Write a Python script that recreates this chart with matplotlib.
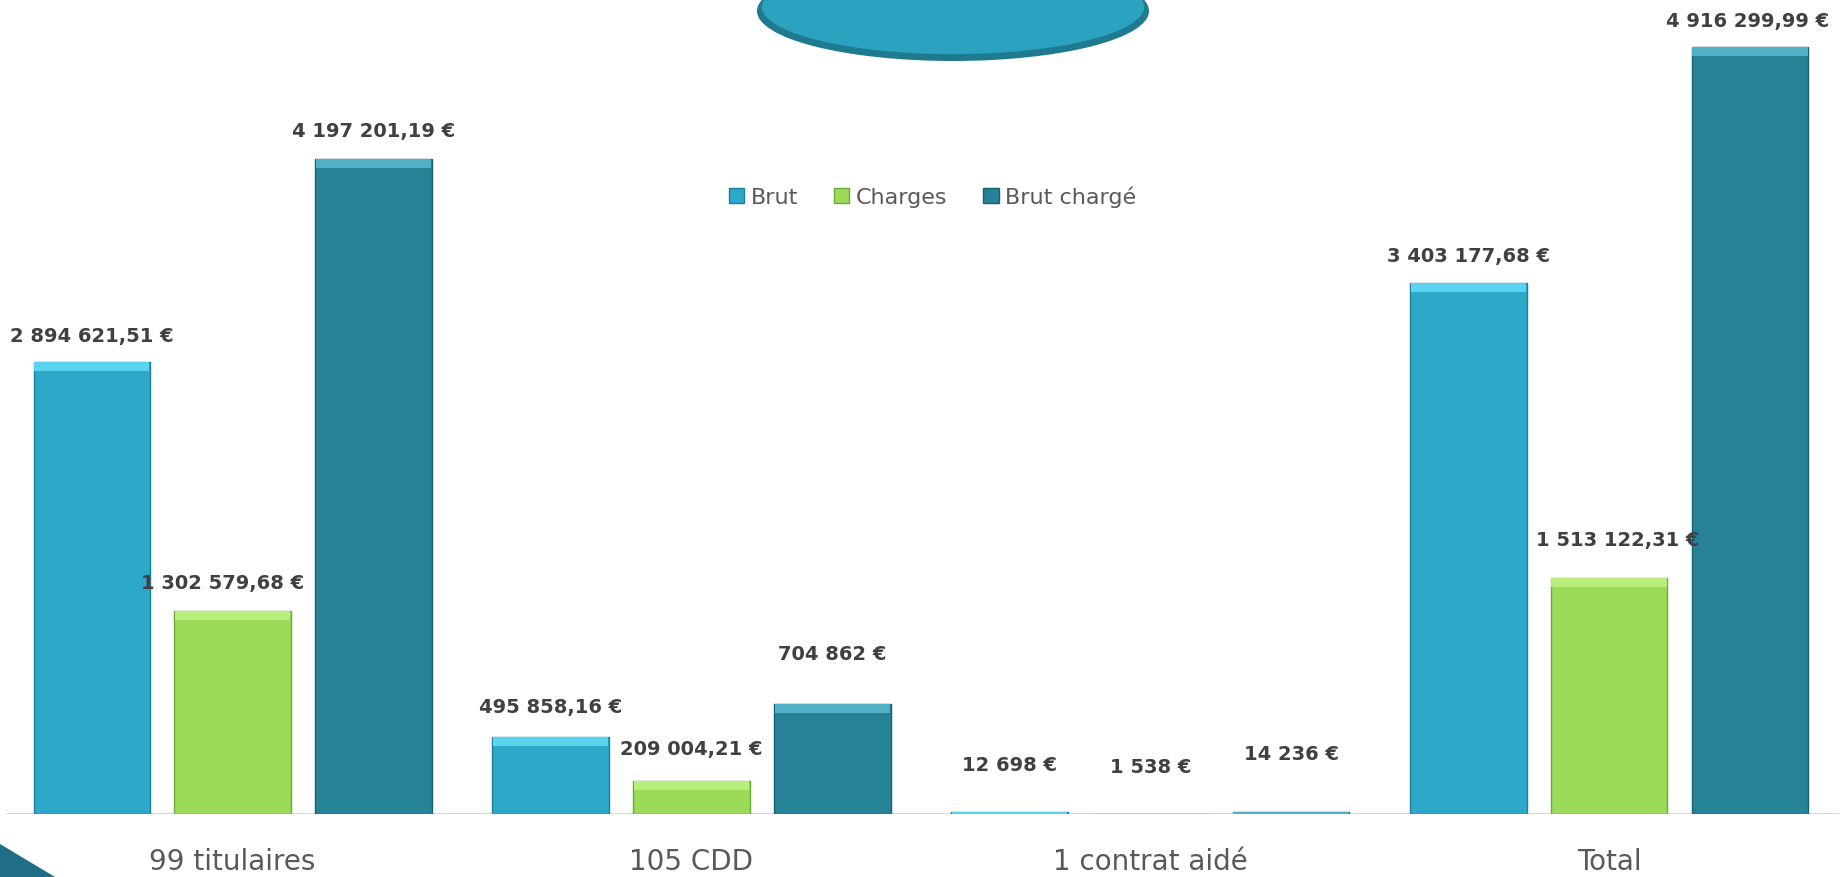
import numpy as np
import matplotlib.pyplot as plt
from matplotlib.patches import Ellipse, Polygon, Rectangle

categories = ["99 titulaires", "105 CDD", "1 contrat aidé", "Total"]
series_names = ["Brut", "Charges", "Brut chargé"]
brut = [2894621.51, 495858.16, 12698, 3403177.68]
charges = [1302579.68, 209004.21, 1538, 1513122.31]
brut_charge = [4197201.19, 704862, 14236, 4916299.99]
labels_brut = ["2 894 621,51 €", "495 858,16 €", "12 698 €", "3 403 177,68 €"]
labels_charges = ["1 302 579,68 €", "209 004,21 €", "1 538 €", "1 513 122,31 €"]
labels_brut_charge = ["4 197 201,19 €", "704 862 €", "14 236 €", "4 916 299,99 €"]

colors = ["#2EA8C8", "#9BDB58", "#268296"]
tops = ["#5AD3EE", "#B8EE7C", "#4FB0C6"]
edges = ["#1F7E97", "#6FA83A", "#1A5F70"]

# label offsets in points above the bar top
lab_dy = [[19.5, 22, 34, 20], [20, 23.5, 34, 28], [21, 36, 42, 19]]
lab_dx = [[0, 0, 0, 0], [-7, 0, 0, 6], [0, 0, 0, -2]]

plt.rcParams['font.family'] = ['DejaVu Sans']

fig = plt.figure(figsize=(18.45, 8.78), dpi=100)
ax = fig.add_axes([0.003, 0.0718, 0.9935, 0.9282])

ymax = 5224000
ax.set_xlim(-0.495, 3.5)
ax.set_ylim(0, ymax)

x = np.arange(len(categories))
w = 0.254
step = 0.307
band = ymax / 815 * 9

allvals = [brut, charges, brut_charge]
alllabs = [labels_brut, labels_charges, labels_brut_charge]
for i in range(3):
    xs = x + (i - 1) * step
    ax.bar(xs, allvals[i], width=w, color=colors[i], edgecolor=edges[i], linewidth=1.0, zorder=2)
    hb = [min(v, band) for v in allvals[i]]
    ax.bar(xs, hb, bottom=[v - h for v, h in zip(allvals[i], hb)], width=w * 0.99,
           color=tops[i], linewidth=0, zorder=3)
    for j, v in enumerate(allvals[i]):
        ax.annotate(alllabs[i][j], xy=(xs[j], v), xytext=(lab_dx[i][j], lab_dy[i][j]),
                    textcoords='offset points', ha='center', va='center',
                    fontsize=14, fontweight='bold', color='#404040', zorder=5)

ax.axhline(0, color='#D0D5D8', linewidth=2, zorder=1)
for s in ax.spines.values():
    s.set_visible(False)
ax.set_yticks([])
ax.set_xticks(x)
ax.set_xticklabels(categories, fontsize=20, color='#595959')
ax.tick_params(axis='x', length=0, pad=24)

# legend
handles = [Rectangle((0, 0), 1, 1, facecolor=colors[i], edgecolor=edges[i]) for i in range(3)]
leg = fig.legend(handles, series_names, loc='center', bbox_to_anchor=(0.5055, 0.775), ncol=3,
                 frameon=False, fontsize=16, handlelength=0.7, handleheight=0.7,
                 handletextpad=0.3, columnspacing=1.6)
for t in leg.get_texts():
    t.set_color('#595959')

# decorative ellipse at top
fig.patches.append(Ellipse((953 / 1845, 1 - 12 / 878), 392 / 1845, 100 / 878,
                           transform=fig.transFigure, facecolor='#1E7A8E', edgecolor='none', zorder=10))
fig.patches.append(Ellipse((953 / 1845, 1 - 8 / 878), 384 / 1845, 96 / 878,
                           transform=fig.transFigure, facecolor='#2BA2BF', edgecolor='#1E7A8E',
                           linewidth=1.2, zorder=11))
# corner shape bottom left
fig.patches.append(Polygon([(0, 1 - 845 / 878), (55 / 1845, 0), (0, 0)],
                           transform=fig.transFigure, facecolor='#1F6E86', edgecolor='none', zorder=10))

fig.savefig("out.png", dpi=100)
